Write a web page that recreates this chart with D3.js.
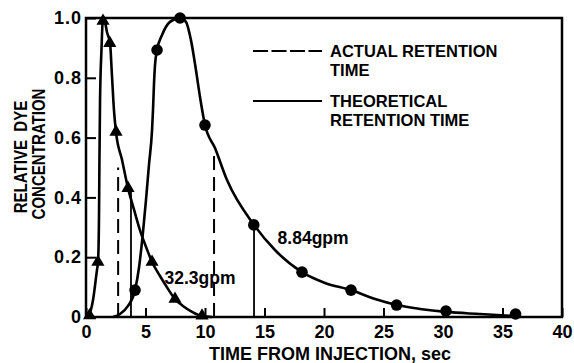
<!DOCTYPE html>
<html><head><meta charset="utf-8">
<script src="https://cdn.jsdelivr.net/npm/d3@7/dist/d3.min.js"></script>
<style>
body{margin:0;background:#fff;}
text{font-family:"Liberation Sans",Arial,Helvetica,sans-serif;font-weight:bold;fill:#000;}
</style></head>
<body><svg id="c" width="574" height="363"></svg>
<script>
// ---- data ----
const xTickValues = [0,5,10,15,20,25,30,35,40];
const xTickLabels = ["0","5","10","15","20","25","30","35","40"];
const yTickValues = [0,0.2,0.4,0.6,0.8,1.0];
const yTickLabels = ["0","0.2","0.4","0.6","0.8","1.0"];

// 32.3 gpm curve (triangles)
const fastCurveT = [0.04,0.25,0.59,0.92,1.01,1.09,1.13,1.18,1.30,1.43,1.60,1.76,2.02,2.18,2.35,2.52,3.03,3.53,4.03,4.54,5.04,5.55,6.22,6.89,7.48,8.15,8.91,9.75,10.6];
const fastCurveY = [0,0.007,0.057,0.157,0.184,0.324,0.525,0.726,0.893,1.0,0.987,0.953,0.916,0.809,0.692,0.619,0.525,0.431,0.36,0.29,0.235,0.184,0.137,0.094,0.060,0.037,0.017,0.003,0];
const fastMarkT = [0.3,1.0,1.43,2.0,2.52,3.53,5.55,7.48,9.75];
const fastMarkY = [0.005,0.184,0.99,0.916,0.619,0.431,0.184,0.060,0.004];

// 8.84 gpm curve (circles)
const slowCurveT = [2.27,2.86,3.53,4.12,4.45,4.79,5.04,5.29,5.55,5.63,5.71,5.80,5.97,6.39,7.06,7.9,8.4,8.82,9.24,9.58,10.0,10.84,11.85,14.12,15.88,18.15,20.08,22.27,24.29,26.13,28.07,30.25,33.1,36.13];
const slowCurveY = [0,0.010,0.037,0.090,0.164,0.284,0.391,0.508,0.625,0.692,0.776,0.843,0.893,0.943,0.987,1.0,0.987,0.926,0.826,0.736,0.642,0.565,0.458,0.308,0.224,0.150,0.114,0.090,0.060,0.040,0.027,0.017,0.010,0.003];
const slowMarkT = [4.12,5.97,7.9,10.0,14.1,18.15,22.27,26.1,30.25,36.1];
const slowMarkY = [0.090,0.893,1.0,0.642,0.308,0.150,0.090,0.040,0.020,0.010];

// retention time lines
const actualT = [2.7,10.76];
const actualTop = [0.5,0.56];
const theoT = [3.78,14.12];
const theoTop = [0.42,0.308];

const legendLabels = [["ACTUAL RETENTION","TIME"],["THEORETICAL","RETENTION TIME"]];
const seriesLabels = ["32.3gpm","8.84gpm"];
const labelT = [6.6,16.1];
const labelY = [0.11,0.245];

// ---- drawing ----
const svg = d3.select("#c");
const L=86,R=562,T=18,B=317;
const x = d3.scaleLinear().domain([0,40]).range([L,R]);
const y = d3.scaleLinear().domain([0,1]).range([B,T]);

const line = d3.line().x(d=>x(d[0])).y(d=>y(d[1])).curve(d3.curveMonotoneX);
const fastCurve = fastCurveT.map((t,i)=>[t,fastCurveY[i]]);
const slowCurve = slowCurveT.map((t,i)=>[t,slowCurveY[i]]);

// frame
svg.append("rect").attr("x",L).attr("y",T).attr("width",R-L).attr("height",B-T)
  .attr("fill","none").attr("stroke","#000").attr("stroke-width",2.5);

// axes
const xAxis = svg.append("g").attr("transform",`translate(0,${B})`)
  .call(d3.axisBottom(x).tickValues(xTickValues).tickSize(-9).tickPadding(8)
    .tickFormat((d,i)=>xTickLabels[i]));
const yAxis = svg.append("g").attr("transform",`translate(${L},0)`)
  .call(d3.axisLeft(y).tickValues(yTickValues).tickSize(-10).tickPadding(4)
    .tickFormat((d,i)=>yTickLabels[i]));
[xAxis,yAxis].forEach(g=>{
  g.select(".domain").remove();
  g.selectAll(".tick line").attr("stroke","#000").attr("stroke-width",2);
  g.selectAll(".tick text").attr("font-size",18).attr("font-family",null).attr("fill","#000");
});
yAxis.selectAll(".tick text").attr("letter-spacing",1);

// retention lines
svg.selectAll(".act").data(actualT).enter().append("line")
  .attr("x1",d=>x(d)).attr("x2",d=>x(d)).attr("y1",y(0)).attr("y2",(d,i)=>y(actualTop[i]))
  .attr("stroke","#000").attr("stroke-width",2).attr("stroke-dasharray","14,7");
svg.selectAll(".theo").data(theoT).enter().append("line")
  .attr("x1",d=>x(d)).attr("x2",d=>x(d)).attr("y1",y(0)).attr("y2",(d,i)=>y(theoTop[i]))
  .attr("stroke","#000").attr("stroke-width",1.8);

// curves
[fastCurve,slowCurve].forEach(c=>{
  svg.append("path").attr("d",line(c)).attr("fill","none").attr("stroke","#000").attr("stroke-width",2.6);
});

// markers
const tri = d3.symbol().type(d3.symbolTriangle).size(75);
fastMarkT.forEach((t,i)=>{
  svg.append("path").attr("d",tri()).attr("transform",`translate(${x(t)},${y(fastMarkY[i])})`).attr("fill","#000");
});
slowMarkT.forEach((t,i)=>{
  svg.append("circle").attr("cx",x(t)).attr("cy",y(slowMarkY[i])).attr("r",5.8).attr("fill","#000");
});

// legend
svg.append("line").attr("x1",253).attr("x2",322).attr("y1",51).attr("y2",51)
  .attr("stroke","#000").attr("stroke-width",2).attr("stroke-dasharray","15,3.5");
svg.append("line").attr("x1",253).attr("x2",322).attr("y1",101).attr("y2",101)
  .attr("stroke","#000").attr("stroke-width",2);
const legY = [[57,76],[107,126]];
legendLabels.forEach((pair,k)=>{
  pair.forEach((s,j)=>{
    svg.append("text").attr("x",330).attr("y",legY[k][j])
      .attr("font-size",16.5).text(s);
  });
});

// series labels
seriesLabels.forEach((s,i)=>{
  svg.append("text").attr("x",x(labelT[i])).attr("y",y(labelY[i])).attr("font-size",17.5).text(s);
});

// axis titles
svg.append("text").attr("x",330).attr("y",360).attr("text-anchor","middle").attr("font-size",18)
  .text("TIME FROM INJECTION, sec");
svg.append("text").attr("transform","translate(27,157) rotate(-90) scale(0.86,1)").attr("text-anchor","middle")
  .attr("font-size",17.5).attr("xml:space","preserve").text("RELATIVE  DYE");
svg.append("text").attr("transform","translate(45,154) rotate(-90) scale(0.86,1)").attr("text-anchor","middle")
  .attr("font-size",17.5).text("CONCENTRATION");
</script></body></html>
